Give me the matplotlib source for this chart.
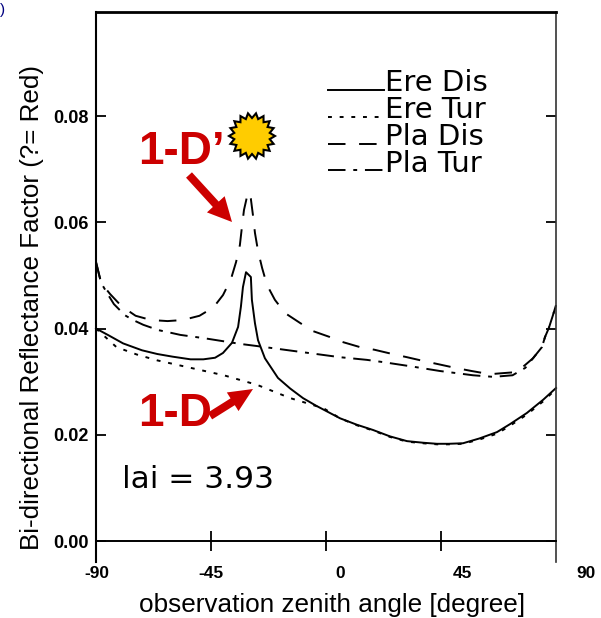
import matplotlib
matplotlib.use('Agg')
import matplotlib.pyplot as plt
from matplotlib.patches import FancyArrow, Polygon
import numpy as np

plt.rcParams['font.family'] = ['Liberation Sans', 'DejaVu Sans']

# curves
ere_dis_x = [-90, -85, -79.4, -72, -66, -60, -53, -48, -43.4, -40.3, -36.8, -34.4, -33.3, -32.5, -31.3, -29.4, -29, -27.8, -26.6, -23.9, -18.8, -14, -9, -4, 5.5, 12, 18.4, 25, 31.7, 38, 43.4, 48, 53.6, 60, 66.9, 72, 78.6, 85, 90]
ere_dis_y = [.0400, .0387, .0372, .0359, .0352, .0347, .0342, .0342, .0345, .0354, .0373, .0403, .0441, .0478, .0506, .0497, .0454, .0410, .0378, .0344, .0307, .0287, .0269, .0255, .0231, .0219, .0209, .0197, .0188, .0185, .0183, .0183, .0184, .0193, .0205, .0220, .0241, .0266, .0288]

ere_tur_x = [-90, -82, -74, -66, -53, -40, -27, -14, -1, 5.5, 12, 18.4, 25, 31.7, 38, 43.4, 48, 53.6, 60, 66.9, 72, 78.6, 85, 90]
ere_tur_y = [.0400, .0365, .0351, .0340, .0326, .0312, .0294, .0269, .0250, .0231, .0218, .0208, .0196, .0187, .0184, .0182, .0182, .0183, .0191, .0202, .0217, .0238, .0263, .0286]

pla_dis_x = [-90, -88, -84.5, -80, -74.5, -68.5, -62, -56, -49.5, -44, -40.3, -37.2, -35.2, -33.7, -32.9, -32.1, -30.5, -29.4, -28.6, -27.8, -26.6, -25, -23.1, -20, -16, -10, -5, 1.5, 5.5, 13.3, 19, 26, 31.7, 38, 43.8, 50.5, 57, 64.1, 69.2, 74.7, 77.1, 81, 84.5, 85.7, 87.2, 88.8, 90]
pla_dis_y = [.0525, .0486, .0465, .0442, .0424, .0416, .0414, .0416, .0424, .0440, .0463, .0493, .0525, .0557, .0591, .0623, .0657, .0644, .0614, .0580, .0546, .0514, .0482, .0454, .0429, .0410, .0395, .0384, .0376, .0365, .0360, .0352, .0346, .0339, .0333, .0326, .0320, .0314, .0316, .0318, .0328, .0344, .0365, .0384, .0401, .0425, .0444]

pla_tur_x = [-90, -88, -85.7, -83, -78.7, -75.5, -71.5, -65.6, -61.7, -57, -48, -33.5, -27, -10, 5.5, 16, 22, 33, 44.6, 57.5, 65.5, 73, 78, 81, 84.5, 85.7, 87.2, 88.8, 90]
pla_tur_y = [.0525, .0486, .0467, .0446, .0425, .0416, .0407, .0397, .0393, .0388, .0382, .0371, .0367, .0356, .0346, .0341, .0337, .0329, .0320, .0312, .0309, .0312, .0326, .0344, .0365, .0384, .0401, .0425, .0444]

legend_labels = ['Ere Dis', 'Ere Tur', 'Pla Dis', 'Pla Tur']
xtick_vals = [-45, 0, 45]
ytick_vals = [0.00, 0.02, 0.04, 0.06, 0.08]
ytick_labels = ['0.00', '0.02', '0.04', '0.06', '0.08']

W, H = 601, 618
fig = plt.figure(figsize=(W / 100, H / 100), dpi=100)

# plot box in pixels: x 96-556, y 12-562
ax = fig.add_axes([96 / W, 1 - 562 / H, 460 / W, 550 / H])
ax.set_xlim(-90, 90)
ax.set_ylim(-21 / 5312, 529 / 5312)

styles = [
    (ere_dis_x, ere_dis_y, '-'),
    (ere_tur_x, ere_tur_y, (0, (2, 4))),
    (pla_dis_x, pla_dis_y, (0, (9, 7))),
    (pla_tur_x, pla_tur_y, (0, (9, 4, 2, 4))),
]
for cx, cy, ls in styles:
    ax.plot(cx, cy, color='black', lw=1.4, ls=ls, clip_on=False)

ax.spines['bottom'].set_position(('data', 0))
ax.spines['bottom'].set_linewidth(1.4)
ax.spines['left'].set_linewidth(1.5)
ax.spines['top'].set_linewidth(2)
ax.spines['right'].set_linewidth(1.2)
ax.spines['right'].set_color('#333333')

ax.set_xticks(xtick_vals)
ax.set_xticklabels([])
ax.tick_params(axis='x', direction='inout', length=15, width=1.3)
ax.set_yticks(ytick_vals)
ax.set_yticklabels(ytick_labels, fontweight='bold', fontsize=13)
ax.tick_params(axis='y', direction='in', length=7, width=1.3, pad=5, right=True)

# overlay in pixel coordinates for annotations
ov = fig.add_axes([0, 0, 1, 1])
ov.set_xlim(0, W)
ov.set_ylim(H, 0)
ov.axis('off')

for lab, px in zip(['-90', '-45', '0', '45', '90'], [97, 211, 340, 462, 586]):
    ov.text(px, 573, lab, ha='center', va='center', fontweight='bold', fontsize=12.5)

ov.text(32, 308, 'Bi-directional Reflectance Factor (?= Red)', rotation=90,
        ha='center', va='center', fontsize=18.7)
ov.text(332, 605, 'observation zenith angle [degree]', ha='center', va='center', fontsize=18.8)

# legend from the scanned plot
for (_, _, ls), lab, py, ty in zip(styles, legend_labels, [90, 117, 144, 170], [91, 118, 145, 172]):
    ov.plot([328, 384], [py, py], color='black', lw=1.4, ls=ls)
    ov.text(385, ty, lab, ha='left', va='baseline', fontsize=21, family='DejaVu Sans')

ov.text(122, 479, 'lai = 3.93', ha='left', va='center', fontsize=22.5, family='DejaVu Sans')

# cut off label at the top left edge
ov.text(3, 10, ')', ha='center', va='center', fontsize=11, color='#000080')

# red labels and arrows
red = '#cc0000'
ov.text(138, 152, '1-D\u2019', ha='left', va='center', fontsize=33, fontweight='bold', color=red)
ov.text(138, 414, '1-D', ha='left', va='center', fontsize=33, fontweight='bold', color=red)
ov.add_patch(FancyArrow(189, 175, 43, 47, width=8, head_width=24, head_length=24,
                        length_includes_head=True, color=red, lw=0))
ov.add_patch(FancyArrow(210, 416, 43, -27, width=8, head_width=22, head_length=24,
                        length_includes_head=True, color=red, lw=0))

# sun
ang = np.linspace(0, 2 * np.pi, 36, endpoint=False)
rad = np.where(np.arange(36) % 2 == 0, 23, 18)
sun = np.column_stack([252 + rad * np.cos(ang), 136 + rad * np.sin(ang)])
ov.add_patch(Polygon(sun, closed=True, facecolor='#ffcc00', edgecolor='black', lw=1.5))

fig.savefig('out.png', dpi=100)
